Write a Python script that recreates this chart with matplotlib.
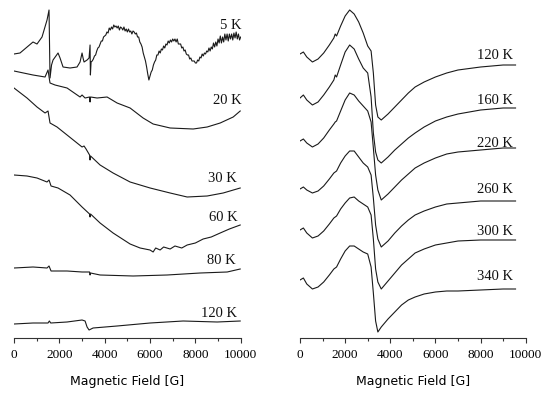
import matplotlib
matplotlib.use("Agg")
import matplotlib.pyplot as plt
from matplotlib.ticker import MultipleLocator

# ---------------- data (field in Gauss, signal in arbitrary units, relative to start) -------------
# Left panel
x5 = ([0, 265, 574, 839, 1015, 1236, 1457, 1545, 1589, 1656, 1722, 1943, 2031, 2163, 2472, 2781,
       2914, 3002, 3046, 3090, 3223, 3311, 3355, 3370, 3400, 3450]
      + list(range(3500, 10001, 50)))
y5 = [0, 1, 7, 12, 10, 17, 34, 44, -24, -11, -6, 1, -4, -13, -14, -13,
      -8, 1, -4, -8, -6, -4, 9, -21, -8, -7,
      -5, -2, -1, 3, 6, 7, 10, 13, 13, 17,
      18, 19, 22, 21, 26, 24, 27, 25, 29, 27,
      28, 26, 28, 24, 27, 26, 24, 27, 23, 25,
      22, 25, 22, 23, 20, 23, 22, 20, 21, 17,
      17, 12, 10, 7, 1, -3, -7, -13, -20, -26,
      -22, -18, -16, -11, -8, -6, -1, -1, 3, 1,
      5, 4, 8, 6, 10, 9, 13, 11, 14, 12,
      15, 13, 15, 12, 15, 10, 10, 10, 6, 7,
      3, 4, 0, -1, -1, -5, -4, -7, -7, -7,
      -9, -9, -6, -7, -3, -4, 0, -2, 1, 0,
      3, 2, 6, 3, 7, 5, 11, 7, 12, 8,
      15, 11, 18, 11, 17, 12, 20, 14, 20, 13,
      20, 15, 20, 14, 21, 16, 22, 15, 20, 14,
      17]

x20 = [0, 839, 1369, 1501, 1567, 1589, 1810, 2340, 2914, 3002, 3135, 3333, 3355, 3377, 3665,
       4106, 4548, 5121, 5695, 6137, 6887, 7903, 8521, 9095, 9669, 9978]
y20 = [0, -4, -6, 1, -9, -12, -14, -17, -26, -24, -27, -26, -31, -26, -27,
       -26, -32, -37, -47, -53, -57, -58, -56, -52, -46, -40]

x30 = [0, 574, 1015, 1369, 1501, 1589, 1898, 2340, 3002, 3090, 3178, 3333, 3355, 3377, 3797,
       4371, 5121, 6004, 6887, 7638, 8521, 9227, 9978]
y30 = [0, -10, -19, -25, -23, -35, -39, -47, -59, -58, -61, -67, -72, -68, -77,
       -85, -94, -100, -105, -109, -108, -105, -100]

x60 = [0, 574, 1015, 1457, 1545, 1634, 1943, 2472, 3002, 3333, 3355, 3377, 3797, 4371, 5121,
       5563, 6000, 6137, 6250, 6446, 6600, 6887, 7100, 7400, 7638, 8000, 8344, 8700, 9095,
       9500, 9978]
y60 = [0, -1, -3, -7, -5, -11, -13, -20, -32, -39, -42, -39, -48, -58, -69,
       -73, -75, -77, -73, -75, -72, -74, -71, -73, -70, -68, -64, -62, -58,
       -54, -50]

x80 = [0, 839, 1457, 1545, 1634, 2340, 3002, 3333, 3355, 3377, 3797, 5254, 6755, 8212, 9404, 9978]
y80 = [0, 1, 0, 2, -3, -3, -4, -4, -7, -5, -7, -8, -7, -5, -4, -1]

x120l = [0, 839, 1500, 1560, 1620, 2340, 3002, 3135, 3223, 3311, 3488, 4548, 6004, 7461, 8962, 9978]
y120l = [0, 1, 1, 3, 1, 2, 4, 3, -3, -6, -4, -2, 1, 3, 2, 3]

# Right panel (shared field grid)
xr = [0, 150, 300, 550, 800, 1050, 1300, 1500, 1560, 1620, 1800, 2000, 2200, 2400, 2600, 2800,
      3000, 3150, 3250, 3350, 3450, 3600, 3750, 3900, 4200, 4500, 4800, 5100, 5500, 6000,
      6500, 7000, 8000, 9000, 9550]
yr120 = [-1, 1, -4, -9, -6, 0, 8, 15, 19, 17, 27, 37, 43, 39, 31, 20,
         7, 2, -20, -52, -64, -67, -64, -61, -54, -47, -40, -34, -29, -24,
         -20, -17, -14, -12, -12]
yr160 = [-1, 2, -3, -8, -5, 2, 10, 17, 22, 20, 32, 45, 52, 48, 38, 29,
         24, 0, -36, -55, -63, -66, -63, -60, -53, -47, -41, -36, -30, -24,
         -20, -17, -13, -11, -11]
yr220 = [-1, 1, -3, -7, -4, 2, 10, 16, 18, 19, 29, 40, 47, 45, 39, 34,
         29, 18, -8, -35, -50, -60, -57, -54, -47, -40, -34, -28, -23, -18,
         -14, -12, -10, -8, -8]
yr260 = [-1, 1, -2, -5, -3, 2, 9, 15, 16, 17, 25, 32, 37, 37, 31, 25,
         21, 13, -10, -37, -51, -59, -56, -53, -45, -38, -32, -27, -23, -19,
         -16, -15, -13, -13, -13]
yr300 = [-1, 1, -4, -9, -7, -2, 5, 11, 12, 13, 20, 26, 31, 32, 28, 25,
         22, 14, -10, -40, -53, -60, -56, -52, -44, -36, -30, -24, -20, -16,
         -14, -12, -11, -11, -11]
yr340 = [-1, 1, -5, -10, -8, -3, 4, 10, 11, 12, 20, 28, 33, 33, 30, 27,
         25, 12, -14, -42, -53, -48, -44, -40, -33, -26, -21, -18, -15, -13,
         -12, -12, -11, -10, -10]

left_labels = ["5 K", "20 K", "30 K", "60 K", "80 K", "120 K"]
right_labels = ["120 K", "160 K", "220 K", "260 K", "300 K", "340 K"]
tick_values = [0, 2000, 4000, 6000, 8000, 10000]
xlabel = "Magnetic Field [G]"

# ---------------- layout -------------
left_series = [(x5, y5), (x20, y20), (x30, y30), (x60, y60), (x80, y80), (x120l, y120l)]
left_offsets = [284, 267, 250, 163, 70, 14]
left_label_pos = [(10020, 309), (10020, 234), (9845, 156), (9845, 117), (9757, 74), (9845, 21)]

right_series = [yr120, yr160, yr220, yr260, yr300, yr340]
right_offsets = [285, 241, 198, 150, 109, 59]
right_label_pos = [(9437, 279), (9437, 234), (9437, 191), (9437, 145), (9437, 103), (9437, 58)]

W, H = 550, 397
fig = plt.figure(figsize=(W / 100, H / 100), dpi=100)
axL = fig.add_axes([14 / W, (H - 338) / H, 226.7 / W, 338 / H])
axR = fig.add_axes([300 / W, (H - 338) / H, 225.7 / W, 338 / H])

lc = "#1a1a1a"
serif = "Liberation Serif"

for (xs, ys), off in zip(left_series, left_offsets):
    axL.plot(xs, [off + v for v in ys], color=lc, lw=0.8)
for lab, (lx, ly) in zip(left_labels, left_label_pos):
    axL.text(lx, ly, lab, ha="right", va="baseline", fontsize=10.5, family=serif, color="#111")

for ys, off in zip(right_series, right_offsets):
    axR.plot(xr, [off + v for v in ys], color=lc, lw=0.8)
for lab, (lx, ly) in zip(right_labels, right_label_pos):
    axR.text(lx, ly, lab, ha="right", va="baseline", fontsize=10.5, family=serif, color="#111")

for ax in (axL, axR):
    ax.set_xlim(0, 10000)
    ax.set_ylim(0, 338)
    ax.patch.set_visible(False)
    for s in ("top", "right", "left"):
        ax.spines[s].set_visible(False)
    ax.spines["bottom"].set_linewidth(0.8)
    ax.spines["bottom"].set_color("#333")
    ax.set_yticks([])
    ax.set_xticks(tick_values)
    ax.set_xticklabels([str(t) for t in tick_values], family=serif, fontsize=9.5)
    ax.xaxis.set_minor_locator(MultipleLocator(1000))
    ax.tick_params(axis="x", which="major", length=3.6, width=0.8, pad=4.5, color="#333")
    ax.tick_params(axis="x", which="minor", length=2.5, width=0.8, color="#333")
    ax.set_xlabel(xlabel, family="DejaVu Sans", fontsize=9, labelpad=10)

fig.savefig("out.png", dpi=100)
